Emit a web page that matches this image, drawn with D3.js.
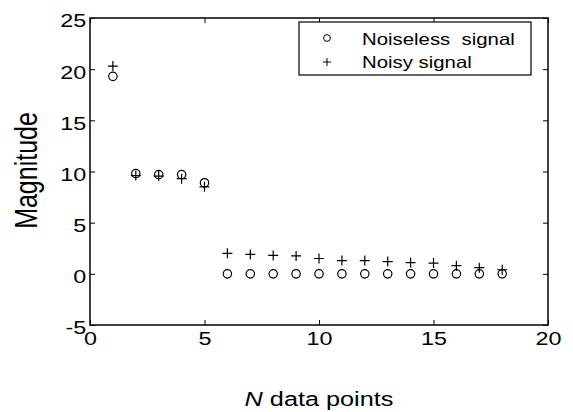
<!DOCTYPE html>
<html>
<head>
<meta charset="utf-8">
<script src="https://cdn.jsdelivr.net/npm/d3@7"></script>
<style>
  html, body { margin: 0; padding: 0; background: #ffffff; }
  text { font-family: "Liberation Sans", Arial, sans-serif; fill: #000; }
</style>
</head>
<body>
<div id="chart"></div>
<script>
// data
const nPoints = [1, 2, 3, 4, 5, 6, 7, 8, 9, 10, 11, 12, 13, 14, 15, 16, 17, 18];
const noiseless = [19.3, 9.8, 9.7, 9.7, 8.9, 0, 0, 0, 0, 0, 0, 0, 0, 0, 0, 0, 0, 0];
const noisy = [20.3, 9.6, 9.55, 9.3, 8.5, 2.0, 1.9, 1.8, 1.75, 1.5, 1.3, 1.3, 1.2, 1.1, 1.05, 0.8, 0.6, 0.4];
const xTicks = [0, 5, 10, 15, 20];
const yTicks = [-5, 0, 5, 10, 15, 20, 25];
const legendLabels = ["Noiseless  signal", "Noisy signal"];

const width = 573;
const height = 412;
const plotLeft = 90, plotRight = 548, plotTop = 18, plotBottom = 325;
// the source figure's text is stretched sideways
const stretch = "scale(1.25, 1)";

const svg = d3.select("#chart")
  .append("svg")
  .attr("width", width)
  .attr("height", height)
  .style("background", "#ffffff");

const xScale = d3.scaleLinear().domain([0, 20]).range([plotLeft, plotRight]);
const yScale = d3.scaleLinear().domain([-5, 25]).range([plotBottom, plotTop]);

// inward ticks on all four sides, like matlab
const fmt = d => String(d);
const xAxis = d3.axisBottom(xScale).tickValues(xTicks).tickFormat(fmt).tickSizeInner(-5).tickSizeOuter(0).tickPadding(7);
const xAxisTop = d3.axisTop(xScale).tickValues(xTicks).tickSizeInner(-5).tickSizeOuter(0).tickFormat("");
const yAxis = d3.axisLeft(yScale).tickValues(yTicks).tickFormat(fmt).tickSizeInner(-5).tickSizeOuter(0).tickPadding(3);
const yAxisRight = d3.axisRight(yScale).tickValues(yTicks).tickSizeInner(-5).tickSizeOuter(0).tickFormat("");

const gx = svg.append("g").attr("transform", `translate(0, ${plotBottom})`).call(xAxis);
svg.append("g").attr("transform", `translate(0, ${plotTop})`).call(xAxisTop);
const gy = svg.append("g").attr("transform", `translate(${plotLeft}, 0)`).call(yAxis);
svg.append("g").attr("transform", `translate(${plotRight}, 0)`).call(yAxisRight);

svg.selectAll(".domain").remove();
svg.selectAll(".tick line").attr("stroke", "#000").attr("stroke-width", 1);
svg.selectAll("g").attr("font-family", null).attr("font-size", null);
gx.selectAll("text").style("font-size", "18.7px").attr("transform", stretch);
gy.selectAll("text").style("font-size", "18.7px").attr("dy", "0.48em").attr("transform", stretch);

// frame
svg.append("rect")
  .attr("x", plotLeft)
  .attr("y", plotTop)
  .attr("width", plotRight - plotLeft)
  .attr("height", plotBottom - plotTop)
  .attr("fill", "none")
  .attr("stroke", "#000")
  .attr("stroke-width", 1.5);

// markers
const circles = nPoints.map((n, i) => ({ x: n, y: noiseless[i] }));
const crosses = nPoints.map((n, i) => ({ x: n, y: noisy[i] }));

svg.append("g").selectAll("circle")
  .data(circles)
  .enter()
  .append("circle")
  .attr("cx", d => xScale(d.x))
  .attr("cy", d => yScale(d.y))
  .attr("r", 4.2)
  .attr("fill", "none")
  .attr("stroke", "#000")
  .attr("stroke-width", 1.2);

const plus = "M-5,0H5M0,-5V5";
svg.append("g").selectAll("path")
  .data(crosses)
  .enter()
  .append("path")
  .attr("transform", d => `translate(${xScale(d.x)}, ${yScale(d.y)})`)
  .attr("d", plus)
  .attr("fill", "none")
  .attr("stroke", "#000")
  .attr("stroke-width", 1.2);

// legend
const legend = svg.append("g");
legend.append("rect")
  .attr("x", 299)
  .attr("y", 22)
  .attr("width", 232)
  .attr("height", 53)
  .attr("fill", "#fff")
  .attr("stroke", "#000")
  .attr("stroke-width", 1.2);

legend.append("circle")
  .attr("cx", 327).attr("cy", 38).attr("r", 3.4)
  .attr("fill", "none").attr("stroke", "#000").attr("stroke-width", 1);
legend.append("path")
  .attr("transform", "translate(327, 62)")
  .attr("d", "M-4,0H4M0,-4V4")
  .attr("stroke", "#000").attr("stroke-width", 1);

legend.selectAll("g.lab")
  .data(legendLabels)
  .enter()
  .append("g")
  .attr("class", "lab")
  .attr("transform", (d, i) => `translate(362, ${45 + i * 23})`)
  .append("text")
  .attr("transform", stretch)
  .style("font-size", "16.3px")
  .style("white-space", "pre")
  .attr("xml:space", "preserve")
  .text(d => d);

// axis titles
svg.append("text")
  .attr("transform", `translate(36.5, ${(plotTop + plotBottom) / 2 - 1}) ${stretch} rotate(-90)`)
  .attr("text-anchor", "middle")
  .style("font-size", "25px")
  .text("Magnitude");

const xt = svg.append("g")
  .attr("transform", `translate(${(plotLeft + plotRight) / 2}, 406)`)
  .append("text")
  .attr("transform", stretch)
  .attr("text-anchor", "middle")
  .style("font-size", "20.2px");
xt.append("tspan").style("font-style", "italic").text("N");
xt.append("tspan").text(" data points");
</script>
</body>
</html>
